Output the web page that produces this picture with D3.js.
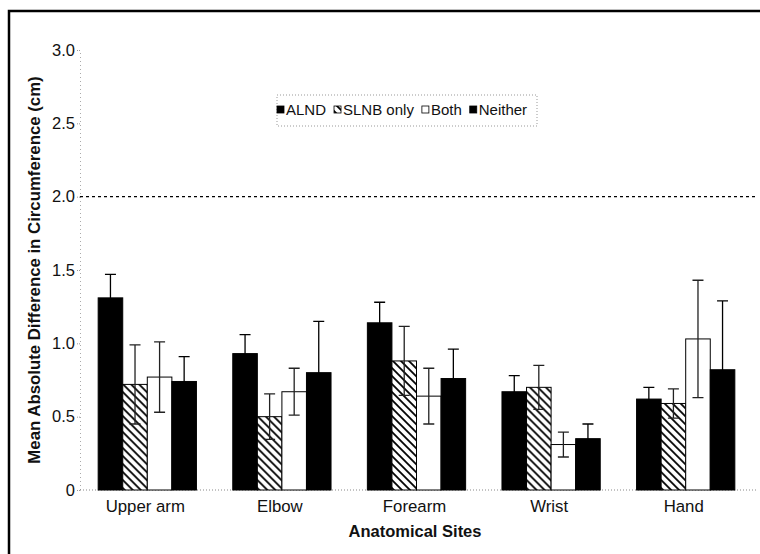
<!DOCTYPE html>
<html>
<head>
<meta charset="utf-8">
<script src="https://cdn.jsdelivr.net/npm/d3@7"></script>
<style>
  body { margin: 0; background: #fff; overflow: hidden; }
  svg { display: block; font-family: "Liberation Sans", Arial, sans-serif; }
</style>
</head>
<body>
<svg width="760" height="554"></svg>
<script>
const svg = d3.select('svg');

const width = 760;
const height = 554;

const sites = ['Upper arm', 'Elbow', 'Forearm', 'Wrist', 'Hand'];
const groups = ['ALND', 'SLNB only', 'Both', 'Neither'];

// mean absolute difference (cm), one value per site
const alnd = [1.31, 0.93, 1.14, 0.67, 0.62];
const slnb = [0.72, 0.50, 0.88, 0.70, 0.59];
const both = [0.77, 0.67, 0.64, 0.31, 1.03];
const neither = [0.74, 0.80, 0.76, 0.35, 0.82];

// error bar half-lengths
const alndErr = [0.16, 0.13, 0.14, 0.11, 0.08];
const slnbErr = [0.27, 0.155, 0.235, 0.15, 0.10];
const bothErr = [0.24, 0.16, 0.19, 0.085, 0.40];
const neitherErr = [0.17, 0.35, 0.20, 0.10, 0.47];

const yTicks = [0, 0.5, 1.0, 1.5, 2.0, 2.5, 3.0];
const yTickLabels = ['0', '0.5', '1.0', '1.5', '2.0', '2.5', '3.0'];
const threshold = 2.0;

const values = [alnd, slnb, both, neither];
const errs = [alndErr, slnbErr, bothErr, neitherErr];
const rows = [];
sites.forEach((s, i) => {
    groups.forEach((g, j) => {
        rows.push({site: s, group: g, value: values[j][i], err: errs[j][i]});
    });
});

// frame (only top and left edges show in the picture)
svg.append('path')
    .attr('d', `M9,${height}L9,11L${width},11`)
    .attr('fill', 'none')
    .attr('stroke', '#000')
    .attr('stroke-width', 2.5);

// hatch pattern
const defs = svg.append('defs');
defs.append('pattern')
    .attr('id', 'hatch')
    .attr('patternUnits', 'userSpaceOnUse')
    .attr('width', 8).attr('height', 8)
    .call(p => {
        p.append('rect').attr('width', 8).attr('height', 8).attr('fill', '#fff');
        p.append('path')
            .attr('d', 'M-2,6 L2,10 M0,0 L8,8 M6,-2 L10,2')
            .attr('stroke', '#000')
            .attr('stroke-width', 1.8);
    });

const fills = {
    'ALND': '#000',
    'SLNB only': 'url(#hatch)',
    'Both': '#fff',
    'Neither': '#000'
};

const x = d3.scaleBand()
    .domain(sites)
    .range([80, 753])
    .paddingInner(0.27)
    .paddingOuter(0.135);

const x1 = d3.scaleBand()
    .domain(groups)
    .range([0, x.bandwidth()]);

const y = d3.scaleLinear()
    .domain([0, 3])
    .range([490, 50]);

// y axis
const yAxis = d3.axisLeft(y)
    .tickValues(yTicks)
    .tickFormat((d, i) => yTickLabels[i])
    .tickSize(3)
    .tickPadding(2);

svg.append('g')
    .classed('y-axis', true)
    .attr('transform', 'translate(80, 0)')
    .call(yAxis)
    .call(g => {
        g.select('.domain').attr('stroke', '#aaa').attr('stroke-dasharray', '1,3');
        g.selectAll('.tick line').attr('stroke', '#999').attr('stroke-dasharray', '1,1');
        g.selectAll('.tick text')
            .attr('font-size', 16.5)
            .attr('fill', '#111')
            .attr('font-family', '"Liberation Sans", Arial, sans-serif');
    });

// baseline
svg.append('line')
    .attr('x1', 80).attr('x2', 758)
    .attr('y1', y(0)).attr('y2', y(0))
    .attr('stroke', '#888')
    .attr('stroke-dasharray', '1,2');

// threshold line
svg.append('line')
    .attr('x1', 80).attr('x2', 758)
    .attr('y1', y(threshold)).attr('y2', y(threshold))
    .attr('stroke', '#000')
    .attr('stroke-width', 1.2)
    .attr('stroke-dasharray', '3,3');

// bars
const bar = svg.append('g')
    .selectAll('g')
    .data(rows)
    .join('g')
    .attr('transform', d => `translate(${x(d.site) + x1(d.group)}, 0)`);

bar.append('rect')
    .attr('x', 0)
    .attr('width', x1.bandwidth())
    .attr('y', d => y(d.value))
    .attr('height', d => y(0) - y(d.value))
    .attr('fill', d => fills[d.group])
    .attr('stroke', '#000')
    .attr('stroke-width', 1);

// error bars
const cw = 5.5;
bar.append('path')
    .attr('d', d => {
        const cx = x1.bandwidth() / 2;
        const top = y(d.value + d.err);
        const bot = y(d.value - d.err);
        return `M${cx},${top}L${cx},${bot}M${cx - cw},${top}L${cx + cw},${top}M${cx - cw},${bot}L${cx + cw},${bot}`;
    })
    .attr('fill', 'none')
    .attr('stroke', d => fills[d.group] === '#000' ? '#000' : '#222')
    .attr('stroke-width', 1.3);

// x labels
svg.append('g')
    .selectAll('text')
    .data(sites)
    .join('text')
    .attr('x', d => x(d) + x.bandwidth() / 2 - 2)
    .attr('y', 512)
    .attr('text-anchor', 'middle')
    .attr('font-size', 16.8)
    .attr('fill', '#111')
    .text(d => d);

svg.append('text')
    .attr('x', 415)
    .attr('y', 537)
    .attr('text-anchor', 'middle')
    .attr('font-size', 16.5)
    .attr('font-weight', 'bold')
    .attr('fill', '#111')
    .text('Anatomical Sites');

svg.append('text')
    .attr('transform', 'translate(40, 270) rotate(-90)')
    .attr('text-anchor', 'middle')
    .attr('font-size', 16.8)
    .attr('font-weight', 'bold')
    .attr('fill', '#111')
    .text('Mean Absolute Difference in Circumference (cm)');

// legend
const legend = svg.append('g').attr('transform', 'translate(277, 95)');
legend.append('rect')
    .attr('width', 260).attr('height', 31)
    .attr('fill', 'none')
    .attr('stroke', '#999')
    .attr('stroke-dasharray', '1,2');

let lx = 0;
groups.forEach(g => {
    const item = legend.append('g').attr('transform', `translate(${lx}, 0)`);
    item.append('rect')
        .attr('x', 0).attr('y', 11)
        .attr('width', 7).attr('height', 7)
        .attr('fill', fills[g])
        .attr('stroke', '#000')
        .attr('stroke-width', 0.8);
    const t = item.append('text')
        .attr('x', 9)
        .attr('y', 20)
        .attr('font-size', 15)
        .attr('fill', '#111')
        .text(g);
    lx += 9 + t.node().getComputedTextLength() + 8;
});
</script>
</body>
</html>
